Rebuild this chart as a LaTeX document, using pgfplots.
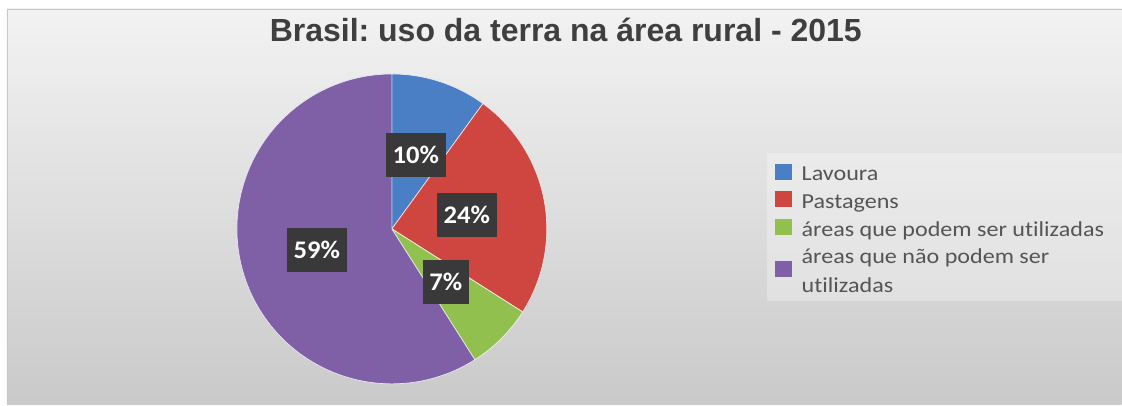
\documentclass[border=0pt]{standalone}
\usepackage{pgfplots}
\pgfplotsset{compat=1.18}
\usepackage{fontspec}
\setmainfont{Carlito}[Ligatures=NoCommon]
\newfontfamily\legendfont{Carlito}[FakeStretch=1.13, Ligatures=NoCommon]
\newfontfamily\lblfont{Carlito}[FakeStretch=1.05, Ligatures=NoCommon]
\newfontfamily\titlefont{Liberation Sans}
\frenchspacing
\definecolor{pblue}{HTML}{4A7FC6}
\definecolor{pred}{HTML}{CF4640}
\definecolor{pgreen}{HTML}{92C04E}
\definecolor{ppurple}{HTML}{7F60A6}
\definecolor{lblbox}{HTML}{393939}
\definecolor{txtgray}{HTML}{555555}
\definecolor{titlegray}{HTML}{3F3F3F}
% data (percent)
\def\vA{10}\def\vB{24}\def\vC{7}\def\vD{59}
\pgfmathsetmacro{\aA}{90}
\pgfmathsetmacro{\aB}{\aA-3.6*\vA}
\pgfmathsetmacro{\aC}{\aB-3.6*\vB}
\pgfmathsetmacro{\aD}{\aC-3.6*\vC}
\pgfmathsetmacro{\aE}{\aD-3.6*\vD}
\def\R{155}
\begin{document}
\begin{tikzpicture}
\fill[white] (0,0) rectangle (841.5pt,303.75pt);
\shade[top color=white!95!black, bottom color=white!79!black] (5.25pt,0pt) rectangle (841.5pt,297pt);
\draw[white!78!black, line width=0.6pt] (5.25pt,0pt) -- (5.25pt,297pt) -- (841.5pt,297pt);
\begin{axis}[
  at={(5.25pt,0pt)}, anchor=south west,
  x=0.75pt, y=0.75pt,
  xmin=-385, xmax=730, ymin=-176, ymax=220,
  enlargelimits=false,
  axis line style={draw=none},
  xtick=\empty, ytick=\empty,
  clip=false,
  legend image code/.code={\fill[#1, draw=none] (0pt,-6pt) rectangle (12.75pt,6pt);},
  legend style={at={(axis cs:383,71.3)}, anchor=north west, draw=none, fill=none,
    inner sep=0pt, column sep=5.25pt, row sep=0pt,
    font=\legendfont\fontsize{16}{21.75}\selectfont\color{txtgray},
    cells={anchor=west, align=left, inner sep=0pt}},
  legend cell align=left,
]
\fill[white, opacity=0.3] (axis cs:375,76) rectangle (axis cs:730,-72);
\addplot[fill=pblue, draw=white!85!pblue, line width=0.5pt, domain=\aB:\aA, samples=40]
  ({\R*cos(x)}, {\R*sin(x)}) -- (axis cs:0,0) -- cycle;
\addlegendentry{\strut Lavoura}
\addplot[fill=pred, draw=white!85!pred, line width=0.5pt, domain=\aC:\aB, samples=60]
  ({\R*cos(x)}, {\R*sin(x)}) -- (axis cs:0,0) -- cycle;
\addlegendentry{\strut Pastagens}
\addplot[fill=pgreen, draw=white!85!pgreen, line width=0.5pt, domain=\aD:\aC, samples=30]
  ({\R*cos(x)}, {\R*sin(x)}) -- (axis cs:0,0) -- cycle;
\addlegendentry{\strut áreas que podem ser utilizadas}
\addplot[fill=ppurple, draw=white!85!ppurple, line width=0.5pt, domain=\aE:\aD, samples=150]
  ({\R*cos(x)}, {\R*sin(x)}) -- (axis cs:0,0) -- cycle;
\addlegendentry{\strut áreas que não podem ser\\\strut utilizadas}
\node[font=\titlefont\bfseries\fontsize{24}{28}\selectfont, text=titlegray] at (axis cs:174,199) {Brasil: uso da terra na área rural - 2015};
\tikzset{lbl/.style={fill=lblbox, text=white, font=\lblfont\bfseries\fontsize{19}{21}\selectfont, minimum height=33.5pt, inner xsep=5pt}}
\node[lbl] at (axis cs:24,74) {10\%};
\node[lbl] at (axis cs:75,14) {24\%};
\node[lbl] at (axis cs:54,-53) {7\%};
\node[lbl] at (axis cs:-75,-21) {59\%};
\end{axis}
\end{tikzpicture}
\end{document}
